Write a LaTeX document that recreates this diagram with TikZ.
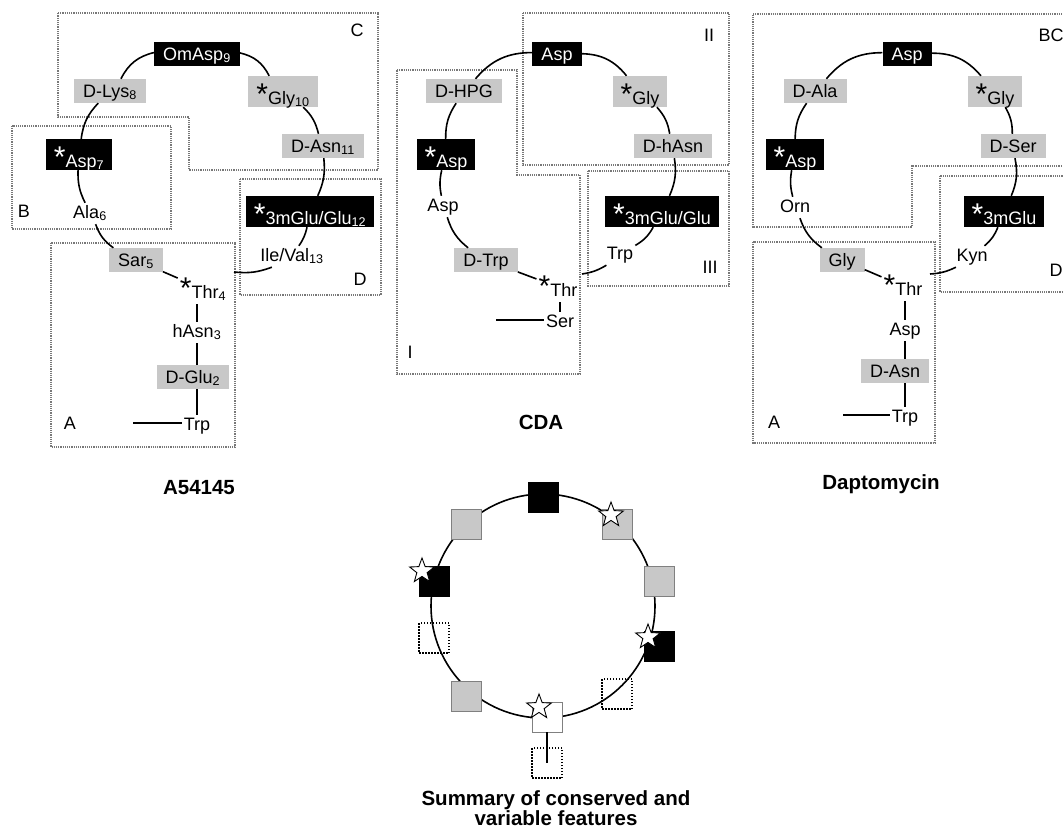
\documentclass[tikz,border=0pt]{standalone}
\usepackage{fontspec}
\setmainfont{Liberation Sans}
\usetikzlibrary{shapes.geometric}
\definecolor{boxgray}{RGB}{200,200,200}
\definecolor{dotgray}{RGB}{120,120,120}
\newcommand{\stx}{{\fontsize{30}{30}\selectfont*}}
\begin{document}
\begin{tikzpicture}[x=1pt,y=1pt,
  every node/.style={font=\fontsize{18}{20}\selectfont},
  bx/.style={inner xsep=9pt,inner ysep=0pt,text height=18pt,text depth=6pt,anchor=base},
  sbx/.style={inner xsep=8pt,inner ysep=0pt,text height=28pt,text depth=3pt,anchor=base},
  blk/.style={fill=black,text=white},
  gry/.style={fill=boxgray},
  txt/.style={inner sep=2pt,text height=13pt,text depth=4pt,anchor=base},
  stxt/.style={inner sep=2pt,text height=22pt,text depth=4pt,anchor=base},
  ring/.style={line width=1.6pt},
  region/.style={draw=dotgray,densely dotted,line width=1.2pt},
  ttl/.style={font=\fontsize{20.5}{22}\selectfont\bfseries,anchor=base},
  sq/.style={minimum size=30pt,inner sep=0pt,draw,line width=0.8pt},
  sqblk/.style={sq,fill=black},
  sqgry/.style={sq,fill=boxgray,draw=gray},
  sqwht/.style={sq,fill=white,draw=gray},
  sqdot/.style={sq,draw=black,dash pattern=on 1.5pt off 1.5pt,line width=1.5pt},
  starmark/.style={star,star points=5,star point ratio=2.4,minimum size=26pt,inner sep=0pt,draw=black,fill=white,line width=0.9pt}
]
\useasboundingbox (0,0) rectangle (1063,-828);
\fill[white] (0,0) rectangle (1063,-828);

% ---------------- A54145 ----------------
\draw[region] (58,-13) -- (378,-13) -- (378,-170) -- (189,-170) -- (189,-117) -- (58,-117) -- cycle;
\draw[region] (12,-126) rectangle (171,-229);
\draw[region] (240,-179) rectangle (381,-295);
\draw[region] (51,-243) rectangle (235,-447);
\node (lC) at (357,-30) {C};
\node (lB) at (24,-211) {B};
\node (lD) at (360,-279) {D};
\node (lA) at (70,-423) {A};

\node[bx,blk] (a9) at (197,-60) {OmAsp\textsubscript{9}};
\node[bx,gry] (a8) at (110,-97) {D-Lys\textsubscript{8}};
\node[sbx,gry] (a10) at (283,-104) {\stx Gly\textsubscript{10}};
\node[bx,gry] (a11) at (323,-152) {D-Asn\textsubscript{11}};
\node[sbx,blk] (a7) at (79,-167) {\stx Asp\textsubscript{7}};
\node[txt] (a6) at (90,-218) {Ala\textsubscript{6}};
\node[sbx,blk] (a12) at (310,-224) {\stx 3mGlu/Glu\textsubscript{12}};
\node[bx,gry] (a5) at (136,-266) {Sar\textsubscript{5}};
\node[stxt] (a4) at (203,-298) {\stx Thr\textsubscript{4}};
\node[txt] (a13) at (292,-261) {Ile/Val\textsubscript{13}};
\node[txt] (a3) at (197,-337) {hAsn\textsubscript{3}};
\node[bx,gry] (a2) at (193,-383) {D-Glu\textsubscript{2}};
\node[txt] (a1) at (197,-430) {Trp};
\coordinate (aE) at (234,-272);
\coordinate (aL) at (133,-423);

\draw[ring] (a5) to[bend left=17] (a6);
\draw[ring] (a6) to[bend left=14] (a7);
\draw[ring] (a7) to[bend left=18] (a8);
\draw[ring] (a8) to[bend left=25] (a9);
\draw[ring] (a9) to[bend left=25] (a10);
\draw[ring] (a10) to[bend left=16] (a11);
\draw[ring] (a11) to[bend left=15] (a12);
\draw[ring] (a12) to[bend left=11] (a13);
\draw[ring] (a13) to[bend left=13] (aE);
\draw[ring] (a5) -- (a4);
\draw[ring] (a4.south -| a3.north) -- (a3.north);
\draw[ring] (a3.south) -- (a3.south |- a2.north);
\draw[ring] (a2.south -| a1.north) -- (a1.north);
\draw[ring] (aL) -- (aL -| a1.west);
\node[ttl] (tA) at (199,-494) {A54145};

% ---------------- CDA ----------------
\draw[region] (523,-13) rectangle (729,-165);
\draw[region] (397,-70) -- (517,-70) -- (517,-175) -- (580,-175) -- (580,-374) -- (397,-374) -- cycle;
\draw[region] (588,-171) rectangle (729,-286);
\node (lII) at (709,-35) {II};
\node (lI) at (410,-352) {I};
\node (lIII) at (710,-267) {III};

\node[bx,blk] (c1) at (557,-60) {Asp};
\node[bx,gry] (c2) at (464,-97) {D-HPG};
\node[sbx,gry] (c3) at (640,-104) {\stx Gly};
\node[bx,gry] (c4) at (673,-152) {D-hAsn};
\node[sbx,blk] (c5) at (446,-167) {\stx Asp};
\node[txt] (c6) at (443,-211) {Asp};
\node[sbx,blk] (c7) at (662,-224) {\stx 3mGlu/Glu};
\node[bx,gry] (c8) at (486,-266) {D-Trp};
\node[stxt] (c9) at (558,-296) {\stx Thr};
\node[txt] (c10) at (560,-327) {Ser};
\node[txt] (c11) at (620,-259) {Trp};
\coordinate (cE) at (582,-274);
\coordinate (cL) at (496,-320);

\draw[ring] (c8) to[bend left=17] (c6);
\draw[ring] (c6) to[bend left=12] (c5);
\draw[ring] (c5) to[bend left=17] (c2);
\draw[ring] (c2) to[bend left=25] (c1);
\draw[ring] (c1) to[bend left=25] (c3);
\draw[ring] (c3) to[bend left=16] (c4);
\draw[ring] (c4) to[bend left=16] (c7);
\draw[ring] (c7) to[bend left=15] (c11);
\draw[ring] (c11) to[bend left=11] (cE);
\draw[ring] (c8) -- (c9);
\draw[line width=1.2pt] (c9.south -| c10.north) -- (c10.north);
\draw[ring] (cL) -- (cL -| c10.west);
\node[ttl] (tC) at (541,-429) {CDA};

% ---------------- Daptomycin ----------------
\draw[region] (753,-14) -- (1080,-14) -- (1080,-166) -- (912,-166) -- (912,-227) -- (753,-227) -- cycle;
\draw[region] (940,-176) rectangle (1080,-292);
\draw[region] (753,-242) rectangle (935,-443);
\node[anchor=west] (lBC) at (1035,-35) {BC};
\node[anchor=west] (lD2) at (1046,-270) {D};
\node (lA2) at (774,-422) {A};

\node[bx,blk] (d1) at (907,-60) {Asp};
\node[bx,gry] (d2) at (815,-97) {D-Ala};
\node[sbx,gry] (d3) at (995,-104) {\stx Gly};
\node[bx,gry] (d4) at (1013,-152) {D-Ser};
\node[sbx,blk] (d5) at (795,-167) {\stx Asp};
\node[txt] (d6) at (795,-212) {Orn};
\node[sbx,blk] (d7) at (1004,-224) {\stx 3mGlu};
\node[bx,gry] (d8) at (842,-266) {Gly};
\node[stxt] (d9) at (903,-295) {\stx Thr};
\node[txt] (d10) at (972,-261) {Kyn};
\node[txt] (d11) at (905,-335) {Asp};
\node[bx,gry] (d12) at (895,-377) {D-Asn};
\node[txt] (d13) at (905,-422) {Trp};
\coordinate (dE) at (930,-274);
\coordinate (dL) at (843,-415);

\draw[ring] (d8) to[bend left=17] (d6);
\draw[ring] (d6) to[bend left=12] (d5);
\draw[ring] (d5) to[bend left=17] (d2);
\draw[ring] (d2) to[bend left=25] (d1);
\draw[ring] (d1) to[bend left=25] (d3);
\draw[ring] (d3) to[bend left=15] (d4);
\draw[ring] (d4) to[bend left=17] (d7);
\draw[ring] (d7) to[bend left=14] (d10);
\draw[ring] (d10) to[bend left=11] (dE);
\draw[ring] (d8) -- (d9);
\draw[ring] (d9.south -| d11.north) -- (d11.north);
\draw[ring] (d11.south) -- (d11.south |- d12.north);
\draw[ring] (d12.south -| d13.north) -- (d13.north);
\draw[ring] (dL) -- (dL -| d13.west);
\node[ttl] (tD) at (881,-489) {Daptomycin};

% ---------------- Summary ----------------
\draw[ring] (543,-606) circle[radius=112];
\node[sqblk] (s1) at (543,-497) {};
\node[sqgry] (s2) at (466,-524) {};
\node[sqgry] (s3) at (617,-524) {};
\node[sqblk] (s4) at (434,-581) {};
\node[sqgry] (s5) at (659,-581) {};
\node[sqdot] (s6) at (434,-638) {};
\node[sqblk] (s7) at (659,-646) {};
\node[sqgry] (s8) at (466,-696) {};
\node[sqdot] (s9) at (617,-694) {};
\node[sqwht] (s10) at (547,-717) {};
\node[sqdot] (s11) at (547,-763) {};
\draw[ring] (s10.south) -- (s11.center);
\node[starmark] (st1) at (611,-515) {};
\node[starmark] (st2) at (422,-571) {};
\node[starmark] (st3) at (648,-637) {};
\node[starmark] (st4) at (539,-707) {};
\node[ttl] (ts1) at (556,-805) {Summary of conserved and};
\node[ttl] (ts2) at (556,-825) {variable features};
\end{tikzpicture}
\end{document}
